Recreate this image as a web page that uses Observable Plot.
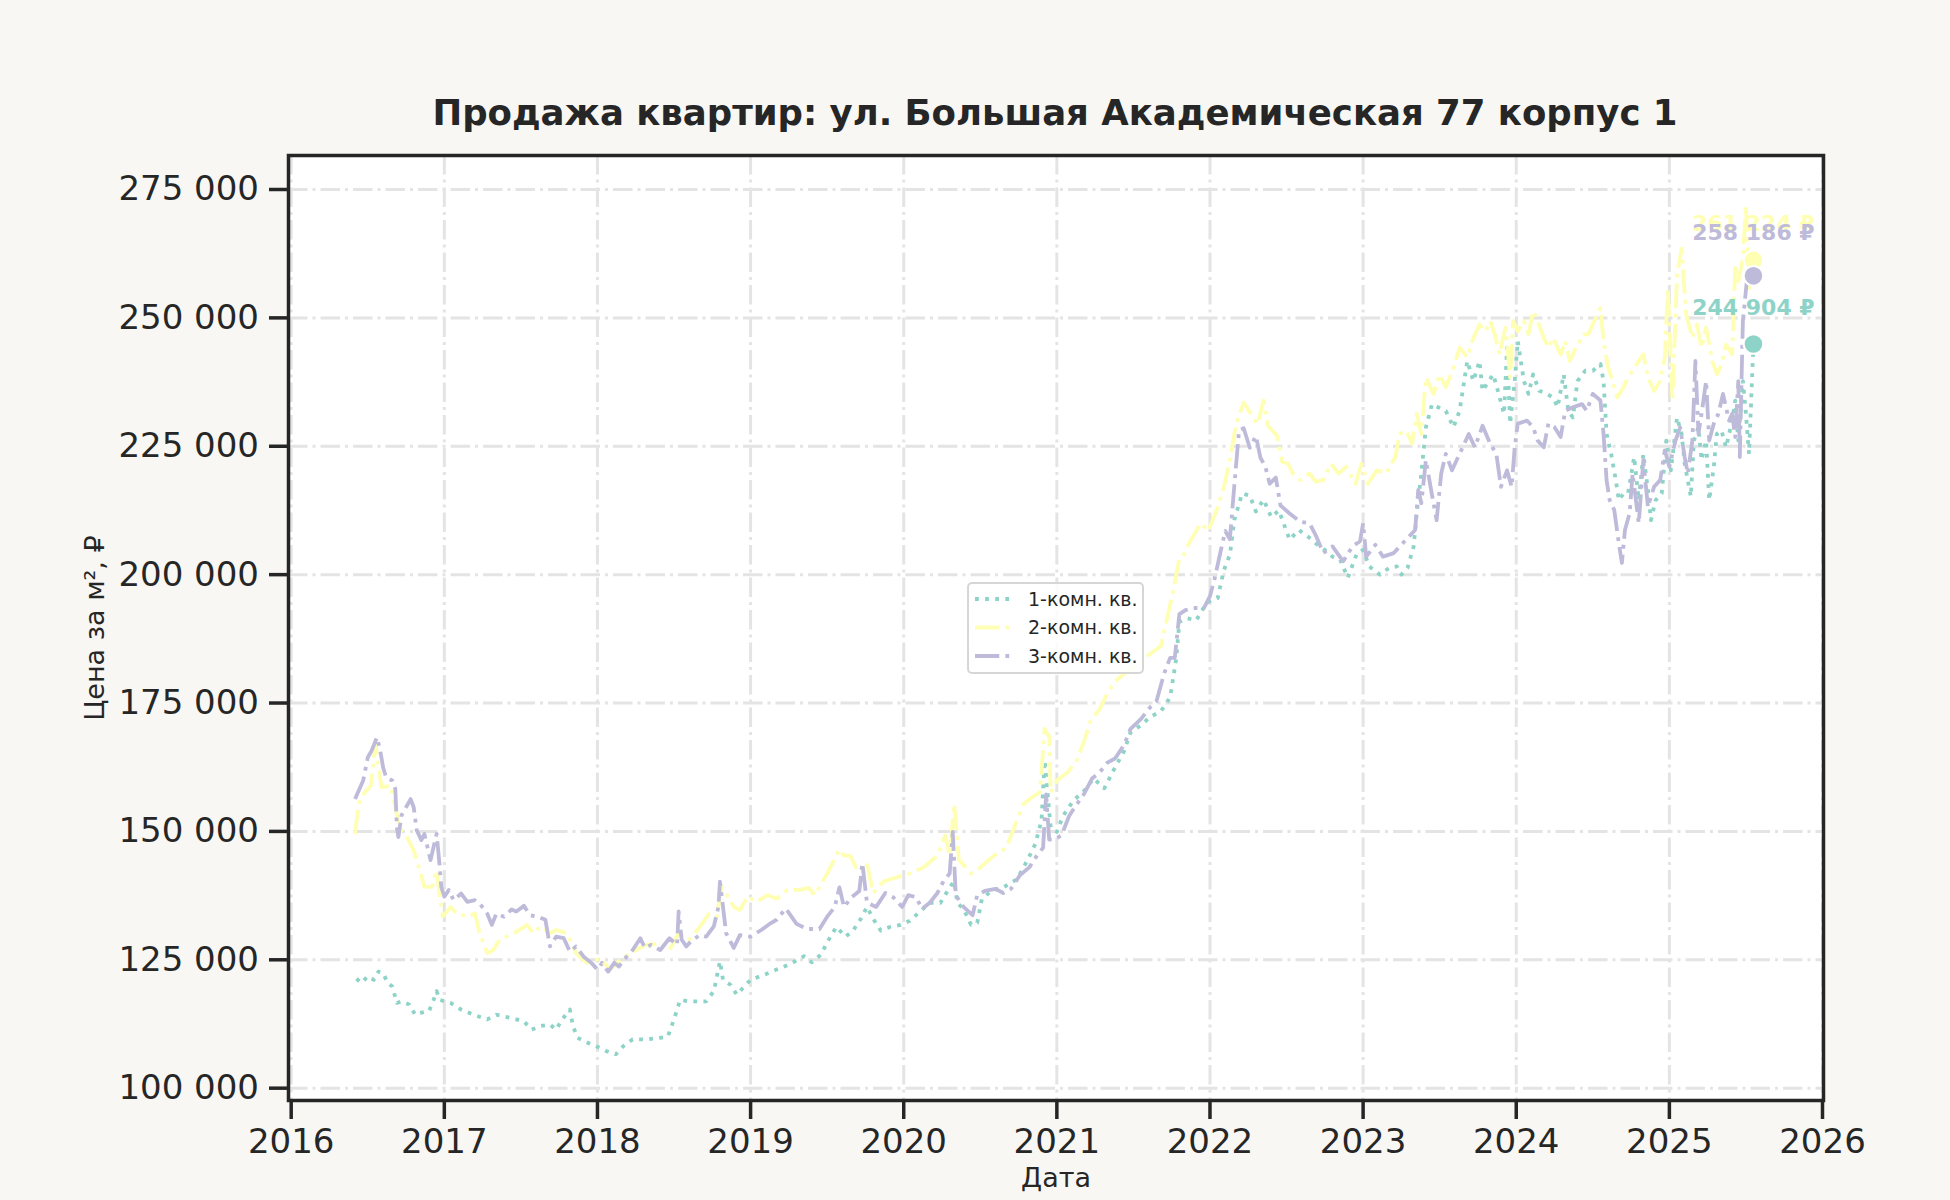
<!DOCTYPE html>
<html>
<head>
<meta charset="utf-8">
<script src="https://cdn.jsdelivr.net/npm/d3@7"></script>
<script src="https://cdn.jsdelivr.net/npm/@observablehq/plot@0.6"></script>
<style>
  html, body { margin: 0; padding: 0; background: #f8f7f3; }
  body { width: 1950px; height: 1200px; position: relative; overflow: hidden; font-family: "DejaVu Sans", sans-serif; }
  #title { position: absolute; left: 105px; width: 1900px; top: 93px; text-align: center; font-weight: bold; font-size: 35.5px; line-height: 40px; color: #262626; white-space: nowrap; }
  #chart { position: absolute; left: 0; top: 140px; }
  #legend { position: absolute; left: 967px; top: 582px; width: 173px; height: 88px; border: 2px solid rgba(204,204,204,0.8); border-radius: 5px; background: rgba(255,255,255,0.85); }
</style>
</head>
<body>
<div id="title">Продажа квартир: ул. Большая Академическая 77 корпус 1</div>
<div id="chart"></div>
<div id="legend"></div>
<script>
// ---- data (x: decimal year, values in thousands of ₽ per m²) ----
const seriesNames = ["1-комн. кв.", "2-комн. кв.", "3-комн. кв."];
const seriesColors = ["#8dd3c7", "#ffffb3", "#bebada"];
const seriesDashes = ["3.8,6.3", "24.3,6.1,3.8,6.1", "24.3,6.1,3.8,6.1"];
const labelOffsets = [-36, -36, -43];
const UNIT = 1000;

const years1 = [2016.426,2016.46,2016.50,2016.54,2016.57,2016.60,2016.63,2016.66,2016.69,2016.72,2016.77,2016.81,2016.85,2016.90,2016.93,2016.95,2016.97,2017.04,2017.11,2017.19,2017.28,2017.34,2017.43,2017.52,2017.57,2017.63,2017.69,2017.73,2017.77,2017.82,2017.84,2017.87,2017.94,2018.01,2018.06,2018.12,2018.17,2018.23,2018.32,2018.41,2018.46,2018.50,2018.54,2018.60,2018.66,2018.71,2018.76,2018.80,2018.82,2018.87,2018.91,2018.95,2019.00,2019.09,2019.17,2019.26,2019.35,2019.40,2019.46,2019.50,2019.56,2019.62,2019.67,2019.72,2019.76,2019.80,2019.85,2019.91,2019.98,2020.04,2020.11,2020.17,2020.24,2020.30,2020.33,2020.35,2020.39,2020.44,2020.48,2020.51,2020.57,2020.65,2020.74,2020.81,2020.86,2020.90,2020.92,2020.96,2021.00,2021.04,2021.11,2021.17,2021.24,2021.31,2021.37,2021.44,2021.48,2021.55,2021.61,2021.68,2021.74,2021.78,2021.80,2021.85,2021.91,2021.98,2022.05,2022.09,2022.13,2022.16,2022.21,2022.26,2022.30,2022.35,2022.40,2022.45,2022.52,2022.58,2022.64,2022.69,2022.75,2022.80,2022.85,2022.90,2022.96,2023.00,2023.04,2023.11,2023.17,2023.22,2023.25,2023.29,2023.33,2023.35,2023.38,2023.41,2023.45,2023.49,2023.54,2023.59,2023.63,2023.68,2023.72,2023.76,2023.78,2023.82,2023.85,2023.88,2023.92,2023.94,2023.96,2023.99,2024.01,2024.05,2024.08,2024.11,2024.15,2024.20,2024.24,2024.27,2024.31,2024.34,2024.37,2024.40,2024.45,2024.50,2024.55,2024.57,2024.59,2024.62,2024.65,2024.67,2024.70,2024.73,2024.77,2024.80,2024.83,2024.86,2024.88,2024.91,2024.95,2024.98,2025.01,2025.05,2025.08,2025.10,2025.14,2025.16,2025.19,2025.21,2025.24,2025.26,2025.29,2025.31,2025.34,2025.37,2025.41,2025.43,2025.45,2025.48,2025.50,2025.52,2025.549];
const values1 = [121.3,120.5,121.8,121.1,122.7,122.4,120.5,119.8,116.6,116.9,116.3,114.3,114.7,115.0,117.2,118.9,117.2,116.6,115.3,114.3,113.4,114.3,113.7,113.0,111.4,112.1,112.4,111.4,113.4,115.3,112.1,109.8,108.8,107.9,107.2,106.6,108.2,109.5,109.5,109.8,110.1,113.4,117.2,116.9,116.9,116.9,118.9,124.7,121.1,120.1,118.2,119.5,121.1,122.1,123.1,124.2,125.7,124.5,126.0,128.4,131.4,129.5,130.7,133.0,135.3,133.0,130.7,131.4,131.8,132.6,134.5,136.1,136.1,139.1,140.3,136.1,134.9,131.8,132.2,136.8,138.4,139.1,140.7,144.5,147.6,152.2,163.8,150.7,149.9,153.0,156.1,157.6,160.3,158.4,161.9,165.7,169.2,170.7,172.3,173.4,176.1,183.8,190.8,191.5,191.1,194.6,195.4,200.8,203.9,210.8,215.8,215.4,212.3,214.6,211.2,212.5,206.8,208.7,207.4,206.1,204.8,203.5,202.9,199.4,204.2,204.8,201.6,200.0,201.3,201.6,200.0,201.3,205.5,211.9,219.7,228.7,233.2,232.6,231.9,228.7,231.9,241.6,237.7,241.6,235.8,237.7,239.0,235.8,231.3,244.2,229.4,237.7,245.5,237.7,235.2,239.0,235.8,235.2,234.5,232.6,239.0,231.9,230.6,237.7,239.7,239.7,241.0,237.7,227.4,223.5,218.4,214.5,215.8,215.8,222.9,214.5,223.5,216.5,210.6,214.5,215.8,226.1,220.3,230.6,227.4,221.6,215.2,226.1,228.7,222.3,226.1,214.5,221.0,227.4,228.1,224.8,230.0,233.9,226.1,237.7,231.3,223.5,244.904];

const years2 = [2016.417,2016.44,2016.48,2016.52,2016.55,2016.57,2016.59,2016.65,2016.68,2016.71,2016.75,2016.80,2016.84,2016.87,2016.92,2016.95,2016.97,2016.99,2017.04,2017.08,2017.15,2017.20,2017.23,2017.28,2017.32,2017.36,2017.43,2017.49,2017.54,2017.58,2017.63,2017.69,2017.73,2017.80,2017.86,2017.93,2018.02,2018.08,2018.15,2018.23,2018.32,2018.41,2018.47,2018.53,2018.60,2018.67,2018.73,2018.78,2018.81,2018.84,2018.89,2018.93,2018.98,2019.04,2019.11,2019.17,2019.24,2019.32,2019.38,2019.42,2019.50,2019.58,2019.61,2019.65,2019.70,2019.76,2019.80,2019.87,2019.96,2020.04,2020.13,2020.22,2020.27,2020.30,2020.33,2020.36,2020.44,2020.50,2020.59,2020.67,2020.74,2020.78,2020.85,2020.89,2020.92,2020.95,2020.96,2021.00,2021.07,2021.13,2021.17,2021.22,2021.28,2021.33,2021.38,2021.44,2021.52,2021.61,2021.68,2021.72,2021.76,2021.80,2021.83,2021.87,2021.94,2021.99,2022.05,2022.09,2022.13,2022.17,2022.22,2022.26,2022.31,2022.35,2022.38,2022.44,2022.47,2022.51,2022.54,2022.59,2022.65,2022.69,2022.74,2022.79,2022.84,2022.89,2022.95,2022.99,2023.03,2023.09,2023.15,2023.21,2023.24,2023.28,2023.32,2023.35,2023.38,2023.41,2023.46,2023.50,2023.54,2023.59,2023.63,2023.68,2023.72,2023.76,2023.80,2023.83,2023.86,2023.89,2023.93,2023.96,2023.98,2024.01,2024.05,2024.08,2024.11,2024.14,2024.18,2024.21,2024.24,2024.29,2024.32,2024.35,2024.39,2024.44,2024.47,2024.51,2024.55,2024.57,2024.60,2024.63,2024.66,2024.70,2024.73,2024.76,2024.80,2024.83,2024.86,2024.90,2024.94,2024.97,2024.99,2025.02,2025.05,2025.08,2025.11,2025.15,2025.18,2025.21,2025.24,2025.28,2025.31,2025.34,2025.37,2025.41,2025.43,2025.45,2025.48,2025.50,2025.52,2025.549];
const values2 = [149.5,155.4,157.6,158.9,167.0,162.5,158.6,158.9,154.7,150.5,149.2,146.3,142.4,139.2,139.2,142.4,137.3,133.4,135.3,134.0,133.4,134.0,130.2,126.3,126.9,128.9,129.8,130.8,131.8,130.2,131.5,130.2,130.8,130.2,126.3,124.4,125.3,123.1,125.0,126.6,127.9,128.2,126.9,130.2,128.9,131.5,134.0,133.4,139.2,137.9,135.3,134.7,137.3,136.3,137.6,136.9,138.6,138.6,139.0,137.6,141.8,146.5,145.3,145.3,142.2,143.8,138.0,140.3,141.1,141.8,143.0,145.3,149.2,145.3,155.3,144.5,141.8,143.0,145.3,146.8,152.2,155.3,156.9,157.6,170.0,168.4,157.6,159.9,161.5,163.8,166.9,171.5,173.8,176.9,179.2,180.7,182.3,184.6,186.1,191.5,196.9,203.1,203.9,206.5,210.0,208.5,213.1,217.0,222.3,229.3,233.5,231.6,229.3,233.9,228.9,227.0,222.0,221.6,219.7,218.4,219.7,218.1,218.4,221.6,219.7,221.0,217.7,221.6,217.7,220.3,219.7,222.9,227.4,228.1,225.5,231.3,227.4,238.4,235.2,239.0,236.5,240.3,244.2,242.3,246.1,248.7,247.4,249.4,246.8,242.9,248.1,238.4,249.4,247.4,249.4,246.8,251.3,249.4,246.1,244.2,246.1,242.9,245.5,241.6,244.2,246.8,246.8,249.4,251.9,245.5,240.3,237.7,234.5,236.5,238.4,239.7,241.6,242.9,238.4,235.8,237.7,242.3,255.8,233.9,258.4,263.5,250.6,246.1,248.7,244.2,248.1,241.6,239.0,240.9,244.8,242.9,260.3,257.1,261.6,271.9,255.8,261.224];

const years3 = [2016.417,2016.47,2016.50,2016.525,2016.56,2016.58,2016.60,2016.62,2016.66,2016.68,2016.69,2016.70,2016.72,2016.75,2016.78,2016.80,2016.82,2016.85,2016.87,2016.91,2016.94,2016.95,2016.97,2016.98,2017.00,2017.03,2017.06,2017.11,2017.15,2017.20,2017.23,2017.28,2017.31,2017.34,2017.39,2017.44,2017.47,2017.52,2017.56,2017.61,2017.66,2017.69,2017.73,2017.78,2017.82,2017.86,2017.91,2017.96,2018.00,2018.03,2018.07,2018.11,2018.14,2018.19,2018.23,2018.28,2018.31,2018.35,2018.41,2018.47,2018.52,2018.53,2018.55,2018.58,2018.62,2018.67,2018.71,2018.76,2018.79,2018.80,2018.82,2018.84,2018.89,2018.93,2019.00,2019.07,2019.13,2019.17,2019.23,2019.26,2019.30,2019.37,2019.45,2019.50,2019.55,2019.58,2019.61,2019.66,2019.71,2019.73,2019.76,2019.82,2019.88,2019.93,2019.99,2020.03,2020.08,2020.12,2020.17,2020.22,2020.26,2020.30,2020.32,2020.34,2020.39,2020.45,2020.48,2020.53,2020.60,2020.65,2020.70,2020.76,2020.82,2020.87,2020.91,2020.93,2020.95,2020.98,2021.03,2021.08,2021.13,2021.17,2021.23,2021.28,2021.33,2021.38,2021.44,2021.48,2021.55,2021.61,2021.65,2021.70,2021.74,2021.77,2021.80,2021.84,2021.89,2021.96,2022.00,2022.03,2022.07,2022.10,2022.13,2022.16,2022.19,2022.22,2022.26,2022.30,2022.33,2022.36,2022.39,2022.43,2022.46,2022.52,2022.59,2022.65,2022.69,2022.74,2022.80,2022.87,2022.93,2022.98,2023.00,2023.02,2023.08,2023.13,2023.20,2023.24,2023.28,2023.34,2023.36,2023.38,2023.41,2023.45,2023.48,2023.51,2023.54,2023.58,2023.63,2023.69,2023.73,2023.78,2023.83,2023.87,2023.90,2023.94,2023.97,2023.99,2024.01,2024.07,2024.11,2024.14,2024.18,2024.21,2024.25,2024.29,2024.32,2024.37,2024.43,2024.46,2024.50,2024.55,2024.57,2024.59,2024.61,2024.64,2024.67,2024.69,2024.71,2024.74,2024.76,2024.80,2024.83,2024.86,2024.90,2024.94,2024.97,2025.00,2025.04,2025.07,2025.10,2025.12,2025.15,2025.17,2025.19,2025.21,2025.24,2025.26,2025.29,2025.32,2025.35,2025.39,2025.41,2025.43,2025.45,2025.46,2025.48,2025.51,2025.549];
const values3 = [156.3,159.9,164.4,165.7,168.3,166.0,162.5,160.5,159.9,158.3,150.8,148.9,153.1,154.7,156.3,154.7,150.2,148.3,149.5,144.4,148.3,149.5,143.1,139.2,137.3,138.6,136.6,137.9,136.3,136.6,136.0,134.0,131.8,134.0,133.4,134.8,134.4,135.5,133.7,133.4,132.8,127.6,129.5,129.2,126.6,127.6,125.6,124.4,123.1,124.4,122.7,124.4,123.7,125.6,126.9,129.2,127.3,127.9,126.9,129.2,127.9,134.4,128.9,127.6,128.9,129.8,129.5,131.5,135.3,140.2,135.3,130.2,127.3,129.8,129.5,130.8,132.1,132.8,135.0,133.7,132.0,131.0,131.0,133.4,135.3,139.1,135.3,137.2,138.4,143.8,136.1,135.3,138.0,137.2,135.3,137.6,137.2,134.9,136.1,138.0,140.3,141.8,149.9,137.6,135.3,133.7,137.6,138.4,138.8,138.0,138.8,141.5,143.0,145.3,146.8,157.2,148.4,148.4,149.2,153.0,155.3,156.9,160.3,161.5,163.4,164.2,166.9,169.9,171.9,174.2,175.3,180.7,183.8,183.8,192.3,193.1,193.5,193.5,195.8,199.2,204.6,208.5,206.9,217.7,228.1,228.5,224.7,227.0,222.7,221.2,217.7,218.9,213.5,211.9,210.3,210.0,207.7,204.2,205.5,202.6,205.5,206.5,210.0,203.5,205.8,203.5,204.2,205.5,206.8,208.7,216.5,213.9,222.3,215.5,210.6,219.7,223.5,220.3,223.5,227.4,224.8,229.0,225.5,223.5,217.1,220.3,217.1,224.8,229.4,230.0,228.7,226.1,224.8,229.4,228.7,226.8,231.9,232.6,233.2,231.9,235.2,233.9,227.4,218.4,214.5,212.6,206.1,202.3,208.7,211.9,219.7,210.0,222.3,213.2,217.1,218.4,224.2,221.0,226.1,228.7,222.9,219.7,226.1,241.6,227.4,231.3,237.7,226.1,229.4,231.3,235.2,230.0,231.3,226.8,237.7,222.9,249.4,258.4,258.186];

const xTicks = [2016,2017,2018,2019,2020,2021,2022,2023,2024,2025,2026];
const yTicks = [100000,125000,150000,175000,200000,225000,250000,275000];

// ---- build table ----
const allYears = [years1, years2, years3];
const allValues = [values1, values2, values3];
const rows = allYears.map((ys, i) => ys.map((yr, j) => ({series: seriesNames[i], year: yr, value: allValues[i][j] * UNIT})));
const lastRows = rows.map(r => r[r.length - 1]);

const ru = d3.formatLocale({decimal: ",", thousands: " ", grouping: [3], currency: ["", " ₽"]});
const fmtInt = ru.format(",d");

const dark = "#262626";
const gridStyle = {stroke: "#e4e4e4", strokeOpacity: 1, strokeWidth: 3, strokeDasharray: "19.5,5,3,5"};

const chart = Plot.plot({
  width: 1950,
  height: 1060,
  marginLeft: 288,
  marginRight: 127,
  marginTop: 15,
  marginBottom: 100,
  style: {background: "transparent", fontFamily: "DejaVu Sans", color: dark, overflow: "visible"},
  x: {type: "linear", domain: [2015.9824, 2026.0065]},
  y: {type: "linear", domain: [97600, 281620]},
  marks: [
    Plot.frame({fill: "#ffffff", stroke: null}),
    Plot.gridX(xTicks, gridStyle),
    Plot.gridY(yTicks, gridStyle),
    ...rows.map((r, i) => Plot.line(r, {
      x: "year", y: "value",
      stroke: seriesColors[i], strokeWidth: 3.8,
      strokeDasharray: seriesDashes[i],
      strokeLinejoin: "round", strokeLinecap: "butt"
    })),
    ...lastRows.map((r, i) => Plot.text([r], {
      x: "year", y: "value",
      text: d => fmtInt(d.value) + " ₽",
      dy: labelOffsets[i],
      fill: seriesColors[i], fontWeight: "bold", fontSize: 22
    })),
    Plot.dot(lastRows, {x: "year", y: "value", r: 9.8, fill: (d) => seriesColors[seriesNames.indexOf(d.series)], stroke: "white", strokeWidth: 2}),
    Plot.frame({stroke: dark, strokeWidth: 3.5}),
    Plot.axisX(xTicks, {
      anchor: "bottom", tickSize: 19, tickPadding: 9, tickFormat: d => String(d),
      fontSize: 34, stroke: dark, strokeWidth: 3.5, fill: dark, label: null
    }),
    Plot.axisY(yTicks, {
      anchor: "left", tickSize: 19, tickPadding: 10.5, tickFormat: fmtInt,
      fontSize: 34, stroke: dark, strokeWidth: 3.5, fill: dark, label: null
    }),
    Plot.text(["Цена за м², ₽"], {frameAnchor: "left", dx: -193, rotate: -90, textAnchor: "middle", lineAnchor: "middle", fontSize: 27, fill: dark}),
    Plot.text(["Дата"], {frameAnchor: "bottom", dy: 78, lineAnchor: "middle", fontSize: 27, fill: dark})
  ]
});
document.getElementById("chart").appendChild(chart);

// ---- legend (overlay box) ----
const lg = d3.select("#legend").append("svg").attr("width", 173).attr("height", 88);
seriesNames.forEach((name, i) => {
  const cy = 15 + i * 28.5;
  lg.append("line").attr("x1", 6).attr("x2", 41).attr("y1", cy).attr("y2", cy)
    .attr("stroke", seriesColors[i]).attr("stroke-width", 3.8)
    .attr("stroke-dasharray", seriesDashes[i]);
  lg.append("text").attr("x", 59).attr("y", cy).attr("dy", "0.35em")
    .attr("font-family", "DejaVu Sans").attr("font-size", 19).attr("fill", dark).text(name);
});
</script>
</body>
</html>
